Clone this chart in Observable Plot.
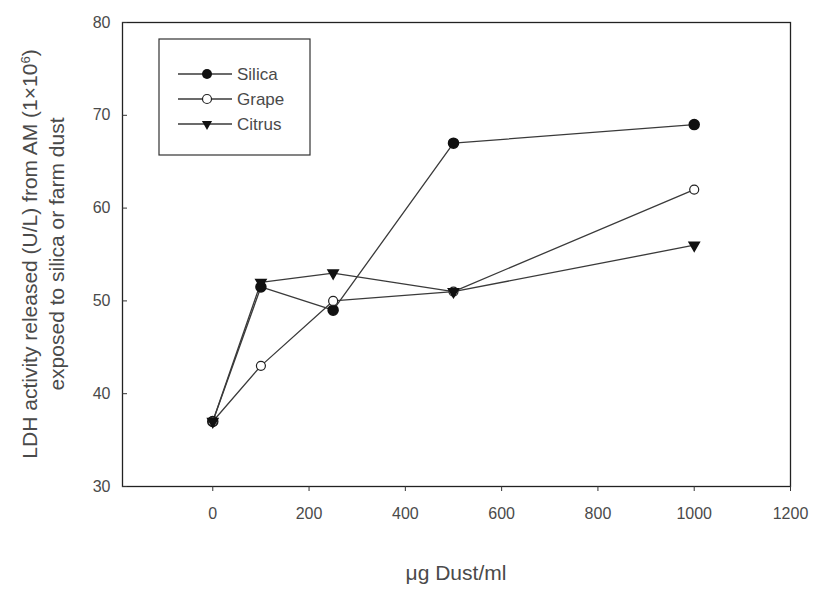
<!DOCTYPE html>
<html>
<head>
<meta charset="utf-8">
<script src="https://cdn.jsdelivr.net/npm/d3@7"></script>
<script src="https://cdn.jsdelivr.net/npm/@observablehq/plot@0.6"></script>
<style>
  html, body { margin: 0; padding: 0; background: #fff; }
  #chart { position: relative; width: 817px; height: 589px; }
  svg { font-family: "Liberation Sans", Arial, sans-serif; }
</style>
</head>
<body>
<div id="chart"></div>
<script>
const doses = [0, 100, 250, 500, 1000];
const silica = [37, 51.5, 49, 67, 69];
const grape = [37, 43, 50, 51, 62];
const citrus = [37, 52, 53, 51, 56];
const seriesNames = ["Silica", "Grape", "Citrus"];
const xTicks = [0, 200, 400, 600, 800, 1000, 1200];
const yTicks = [30, 40, 50, 60, 70, 80];

const seriesValues = [silica, grape, citrus];
const rows = seriesNames.flatMap((s, i) => doses.map((d, j) => ({series: s, dose: d, value: seriesValues[i][j]})));

const lineColor = "#3a3a3a";
const textColor = "#4a4a4a";

const plot = Plot.plot({
  width: 817,
  height: 589,
  marginLeft: 122,
  marginRight: 27,
  marginTop: 22,
  marginBottom: 103,
  style: {fontFamily: "Liberation Sans, Arial, sans-serif", fontSize: "16px", color: "#333", background: "#fff"},
  x: {domain: [-187.5, 1200], label: null},
  y: {domain: [30, 80], label: null},
  marks: [
    Plot.frame({stroke: "#222", strokeWidth: 1.3}),
    Plot.axisX({ticks: xTicks, tickSize: 5, tickPadding: 16, tickFormat: d => String(d), fill: textColor, fontSize: 16}),
    Plot.axisY({ticks: yTicks, tickSize: -5, tickPadding: 17, fill: textColor, fontSize: 16}),
    Plot.line(rows, {x: "dose", y: "value", z: "series", stroke: lineColor, strokeWidth: 1.3}),
    Plot.dot(rows.filter(d => d.series === "Silica"), {x: "dose", y: "value", r: 5, fill: "#111", stroke: "#111"}),
    Plot.dot(rows.filter(d => d.series === "Grape"), {x: "dose", y: "value", r: 4.5, fill: "#fff", stroke: "#222", strokeWidth: 1.2}),
    Plot.dot(rows.filter(d => d.series === "Citrus"), {x: "dose", y: "value", symbol: "triangle", r: 3.8, fill: "#111", stroke: "#111", rotate: 180})
  ]
});

document.getElementById("chart").appendChild(plot);

const svg = d3.select(plot);

// Y axis title (two lines, rotated)
const yt = svg.append("text")
  .attr("transform", "translate(42,254) rotate(-90)")
  .attr("text-anchor", "middle")
  .attr("fill", textColor)
  .attr("font-size", 21);
const l1 = yt.append("tspan").attr("x", 0).attr("dy", "-0.25em").text("LDH activity released (U/L) from AM (1×10");
l1.append("tspan").attr("baseline-shift", "super").attr("font-size", 13).text("6");
yt.append("tspan").text(")");
yt.append("tspan").attr("x", 0).attr("dy", "1.3em").text("exposed to silica or farm dust");

// X axis title
svg.append("text")
  .attr("x", 456).attr("y", 580)
  .attr("text-anchor", "middle")
  .attr("fill", textColor)
  .attr("font-size", 21)
  .text("μg Dust/ml");

// Legend
const lg = svg.append("g");
lg.append("rect").attr("x", 159).attr("y", 39).attr("width", 151).attr("height", 116)
  .attr("fill", "#fff").attr("stroke", "#333").attr("stroke-width", 1.2);
seriesNames.forEach((s, i) => {
  const y = 74 + i * 25;
  lg.append("line").attr("x1", 178).attr("x2", 232).attr("y1", y).attr("y2", y)
    .attr("stroke", lineColor).attr("stroke-width", 1.3);
  if (s === "Silica") {
    lg.append("circle").attr("cx", 207).attr("cy", y).attr("r", 5).attr("fill", "#111");
  } else if (s === "Grape") {
    lg.append("circle").attr("cx", 207).attr("cy", y).attr("r", 4.5).attr("fill", "#fff").attr("stroke", "#222").attr("stroke-width", 1.2);
  } else {
    lg.append("path").attr("d", d3.symbol(d3.symbolTriangle, 45)()).attr("transform", `translate(207,${y}) rotate(180)`).attr("fill", "#111");
  }
  lg.append("text").attr("x", 237).attr("y", y).attr("dy", "0.35em")
    .attr("text-anchor", "start")
    .attr("fill", textColor).attr("font-size", 17).text(s);
});
</script>
</body>
</html>
